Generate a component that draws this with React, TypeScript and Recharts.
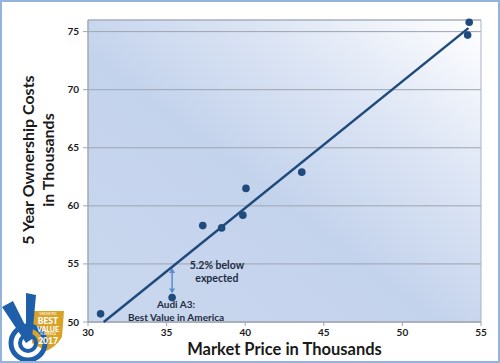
import {
  ScatterChart,
  Scatter,
  XAxis,
  YAxis,
  CartesianGrid,
  ReferenceLine,
  ReferenceDot,
  ReferenceArea,
  Label,
} from "recharts";

// market price vs 5-year ownership cost, both in thousands
const prices = [30.8, 35.35, 37.3, 38.5, 39.85, 40.05, 43.6, 54.15, 54.25];
const costs = [50.7, 52.1, 58.3, 58.1, 59.2, 61.5, 62.9, 74.7, 75.8];
const trendPrices = [31.0, 54.2];
const trendCosts = [50.0, 75.3];
const xTicks = [30, 35, 40, 45, 50, 55];
const yTicks = [50, 55, 60, 65, 70, 75];
const audiPrice = 35.35;
const audiExpected = 54.65;
const audiActual = 52.45;

const points = prices.map((p, i) => ({ x: p, y: costs[i] }));
const trend = trendPrices.map((p, i) => ({ x: p, y: trendCosts[i] }));

const NAVY = "#1f4a7c";
const ARROW = "#5b8ccc";
const GRID = "#9ea4ad";
const INK = "#1a1a1a";
const FONT = "Lato, 'Open Sans', sans-serif";

const tickStyle = { fontSize: 10, fontFamily: FONT, fontWeight: 700, fill: INK };

function DoubleArrow(props: any) {
  const { x1, y1, y2 } = props;
  const top = Math.min(y1, y2);
  const bot = Math.max(y1, y2);
  return (
    <g>
      <line x1={x1} y1={top + 2} x2={x1} y2={bot - 2} stroke={ARROW} strokeWidth={1.5} />
      <path d={`M${x1 - 3},${top + 5} L${x1},${top} L${x1 + 3},${top + 5} Z`} fill={ARROW} />
      <path d={`M${x1 - 3},${bot - 5} L${x1},${bot} L${x1 + 3},${bot - 5} Z`} fill={ARROW} />
    </g>
  );
}

// rough stand-in for the award badge in the corner
function Logo() {
  const white = { fill: "#fff", fontFamily: FONT, textAnchor: "middle" as const };
  return (
    <svg
      width={70}
      height={70}
      style={{ position: "absolute", left: 0, top: 293 }}
      viewBox="0 0 70 70"
    >
      <path d="M30,18 L64,18 L62,44 Q56,54 46,58 L32,50 Z" fill="#d9a32a" />
      <circle cx={28} cy={50} r={17} fill="none" stroke="#1f5faa" strokeWidth={5} />
      <circle cx={28} cy={50} r={8} fill="none" stroke="#1f5faa" strokeWidth={4} />
      <path d="M2,14 L13,8 L32,46 L26,50 Z" fill="#1f5faa" />
      <path d="M26,0 L36,2 L32,46 L26,46 Z" fill="#1f5faa" />
      <text x={48} y={22} fontSize={3} {...white}>VINCENTRIC</text>
      <text x={48} y={31} fontSize={8.5} fontWeight={900} {...white}>BEST</text>
      <text x={48} y={38.5} fontSize={7} fontWeight={900} {...white}>VALUE</text>
      <text x={48} y={42.3} fontSize={2.8} {...white}>IN AMERICA</text>
      <text x={48} y={51} fontSize={8.5} fontWeight={900} {...white}>2017</text>
    </svg>
  );
}

export default function App() {
  return (
    <div style={{ position: "relative", width: 500, height: 363, background: "#fff" }}>
      <style>{`body{margin:0}`}</style>
      <ScatterChart
        width={500}
        height={363}
        margin={{ top: 20, right: 19, bottom: 1, left: 0 }}
      >
        <defs>
          <linearGradient id="plotBg" x1="1" y1="0" x2="0" y2="1">
            <stop offset="0" stopColor="#ffffff" />
            <stop offset="0.3" stopColor="#dbe4f4" />
            <stop offset="0.55" stopColor="#c4d3ec" />
            <stop offset="1" stopColor="#c9d7ee" />
          </linearGradient>
        </defs>
        <CartesianGrid
          vertical={false}
          stroke={GRID}
          strokeWidth={1}
          fill="url(#plotBg)"
          fillOpacity={1}
        />
        <ReferenceArea
          x1={30}
          x2={55}
          y1={50}
          y2={76}
          fill="none"
          fillOpacity={0}
          stroke="#a8b4c6"
          strokeWidth={1}
        />
        <XAxis
          type="number"
          dataKey="x"
          domain={[30, 55]}
          ticks={xTicks}
          tick={tickStyle}
          tickSize={4}
          tickMargin={3}
          axisLine={{ stroke: GRID }}
          tickLine={{ stroke: GRID }}
          height={40}
        >
          <Label
            value="Market Price in Thousands"
            position="insideBottom"
            offset={7}
            style={{ fontSize: 16.5, fontFamily: FONT, fontWeight: 700, fill: INK }}
          />
        </XAxis>
        <YAxis
          type="number"
          dataKey="y"
          domain={[50, 76]}
          ticks={yTicks}
          tick={tickStyle}
          tickSize={5}
          tickMargin={4}
          axisLine={{ stroke: GRID }}
          tickLine={{ stroke: GRID }}
          width={88}
        >
          <Label
            content={() => (
              <text
                transform="translate(38,160) rotate(-90)"
                textAnchor="middle"
                fontFamily={FONT}
                fontWeight={700}
                fontSize={16}
                fill={INK}
              >
                <tspan x={0} dy={-4}>5 Year Ownership Costs</tspan>
                <tspan x={0} dy={20}>in Thousands</tspan>
              </text>
            )}
          />
        </YAxis>
        <Scatter
          data={trend}
          line={{ stroke: NAVY, strokeWidth: 2.5 }}
          shape={() => <g />}
          isAnimationActive={false}
        />
        <Scatter
          data={points}
          fill={NAVY}
          shape={(p: any) => <circle cx={p.cx} cy={p.cy} r={3.8} fill={NAVY} />}
          isAnimationActive={false}
        />
        <ReferenceLine
          segment={[
            { x: audiPrice, y: audiExpected },
            { x: audiPrice, y: audiActual },
          ]}
          shape={DoubleArrow}
        />
        <ReferenceDot
          x={38.2}
          y={54.1}
          r={0}
          shape={(p: any) => (
            <text
              x={p.cx}
              y={p.cy}
              textAnchor="middle"
              fontFamily={FONT}
              fontWeight={700}
              fontSize={10.5}
              fill="#1f2d44"
            >
              <tspan x={p.cx} dy={-5}>5.2% below</tspan>
              <tspan x={p.cx} dy={13}>expected</tspan>
            </text>
          )}
        />
        <ReferenceDot
          x={35.6}
          y={51.1}
          r={0}
          shape={(p: any) => (
            <text
              x={p.cx}
              y={p.cy}
              textAnchor="middle"
              fontFamily={FONT}
              fontWeight={700}
              fontSize={10}
              fill="#1f2d44"
            >
              <tspan x={p.cx} dy={-1}>Audi A3:</tspan>
              <tspan x={p.cx} dy={13}>Best Value in America</tspan>
            </text>
          )}
        />
      </ScatterChart>
      <Logo />
      <div
        style={{
          position: "absolute",
          inset: 0,
          border: "2px solid #96b3dc",
          boxSizing: "border-box",
          pointerEvents: "none",
        }}
      />
    </div>
  );
}
